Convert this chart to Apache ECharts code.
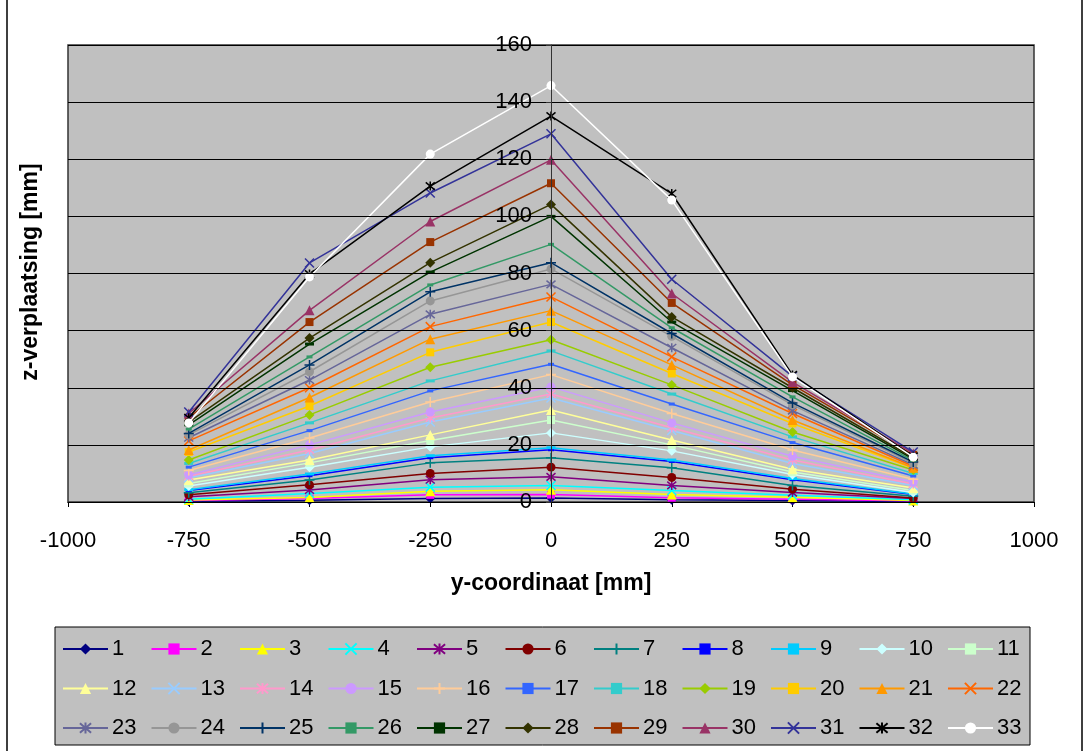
<!DOCTYPE html>
<html>
<head>
<meta charset="utf-8">
<script src="https://cdn.jsdelivr.net/npm/echarts@6/dist/echarts.min.js"></script>
<style>
  html, body { margin: 0; padding: 0; background: #fff; }
  #chart { width: 1085px; height: 751px; }
</style>
</head>
<body>
<div id="chart"></div>
<script>
// y-coordinates of the measuring points [mm]
const yCoords = [-750, -500, -250, 0, 250, 500, 750]

// z-displacement per load step [mm]
const s1  = [0.3, 0.6, 1.2, 1.4, 0.8, 0.5, 0.2]
const s2  = [0.5, 1.2, 2.5, 2.6, 1.5, 1.0, 0.4]
const s3  = [0.7, 1.6, 3.8, 4.3, 2.6, 1.7, 0.5]
const s4  = [1.0, 3.0, 5.2, 5.8, 4.0, 2.4, 0.8]
const s5  = [1.8, 4.2, 7.8, 8.8, 5.8, 3.3, 1.2]
const s6  = [2.5, 6.0, 10.0, 12.2, 8.6, 4.5, 1.4]
const s7  = [3.2, 7.7, 13.7, 15.5, 12.0, 5.8, 2.0]
const s8  = [4.0, 9.2, 15.5, 18.3, 14.2, 7.8, 2.6]
const s9  = [4.3, 9.8, 16.2, 19.0, 14.7, 8.2, 2.8]
const s10 = [5.6, 12.2, 19.3, 24.2, 17.9, 9.6, 3.3]
const s11 = [6.5, 13.7, 21.5, 28.7, 20.0, 10.5, 4.0]
const s12 = [7.7, 14.7, 23.5, 32.2, 21.7, 11.5, 4.9]
const s13 = [8.5, 17.0, 28.0, 36.4, 25.0, 13.5, 5.8]
const s14 = [9.0, 18.2, 29.4, 37.8, 26.0, 14.7, 6.3]
const s15 = [9.5, 20.0, 31.5, 40.3, 27.7, 16.0, 7.0]
const s16 = [11.0, 22.4, 35.0, 44.6, 31.0, 18.2, 8.0]
const s17 = [12.2, 25.0, 38.9, 48.2, 34.3, 20.8, 9.1]
const s18 = [13.5, 27.7, 42.4, 52.9, 37.8, 22.8, 10.0]
const s19 = [14.7, 30.5, 47.2, 56.8, 41.0, 24.5, 11.2]
const s20 = [17.5, 33.6, 52.4, 63.0, 45.0, 27.5, 11.8]
const s21 = [18.2, 36.6, 57.0, 67.0, 48.0, 28.7, 12.0]
const s22 = [21.4, 40.0, 61.4, 71.8, 50.8, 31.0, 12.5]
const s23 = [22.5, 42.7, 65.7, 76.2, 54.0, 32.0, 13.0]
const s24 = [23.5, 45.6, 70.4, 81.6, 58.0, 34.0, 13.5]
const s25 = [24.0, 48.0, 73.6, 83.8, 59.0, 34.7, 14.0]
const s26 = [25.5, 50.8, 76.0, 90.2, 61.0, 36.8, 14.5]
const s27 = [27.0, 55.3, 80.5, 100.0, 63.0, 39.0, 15.0]
const s28 = [28.0, 57.4, 83.8, 104.2, 64.8, 40.0, 15.5]
const s29 = [29.5, 63.0, 91.0, 111.6, 69.7, 41.0, 16.5]
const s30 = [31.0, 67.1, 98.2, 119.8, 73.0, 42.0, 17.0]
const s31 = [31.5, 83.7, 108.2, 128.9, 78.0, 44.0, 17.5]
const s32 = [29.5, 79.8, 110.6, 135.1, 108.0, 44.5, 16.0]
const s33 = [27.7, 78.8, 121.8, 145.8, 105.7, 43.8, 15.7]

const seriesNames = ['1','2','3','4','5','6','7','8','9','10','11','12','13','14','15','16','17',
  '18','19','20','21','22','23','24','25','26','27','28','29','30','31','32','33']
const seriesValues = [s1,s2,s3,s4,s5,s6,s7,s8,s9,s10,s11,s12,s13,s14,s15,s16,s17,
  s18,s19,s20,s21,s22,s23,s24,s25,s26,s27,s28,s29,s30,s31,s32,s33]
const seriesColors = ['#000080','#FF00FF','#FFFF00','#00FFFF','#800080','#800000','#008080',
  '#0000FF','#00CCFF','#CCFFFF','#CCFFCC','#FFFF99','#99CCFF','#FF99CC','#CC99FF','#FFCC99',
  '#3366FF','#33CCCC','#99CC00','#FFCC00','#FF9900','#FF6600','#666699','#969696','#003366',
  '#339966','#003300','#333300','#993300','#993366','#333399','#000000','#FFFFFF']

// excel style marker cycle
const markers = [
  { symbol: 'diamond', size: 10, stroke: false },
  { symbol: 'rect', size: 8, stroke: false },
  { symbol: 'triangle', size: 10, stroke: false },
  { symbol: 'path://M0,0L10,10M10,0L0,10', size: 9, stroke: true },
  { symbol: 'path://M0,0L10,10M10,0L0,10M5,-1L5,11', size: 9, stroke: true },
  { symbol: 'circle', size: 9, stroke: false },
  { symbol: 'path://M5,0L5,10M0,5L10,5', size: 10, stroke: true },
  { symbol: 'rect', size: [6, 3], stroke: false },
  { symbol: 'rect', size: [9, 3], stroke: false }
]

const FONT = 'Liberation Sans'
const LABEL_SIZE = 22

const series = seriesNames.map((name, i) => {
  const m = markers[i % markers.length]
  const c = seriesColors[i]
  return {
    name,
    type: 'line',
    data: yCoords.map((x, k) => [x, seriesValues[i][k]]),
    symbol: m.symbol,
    symbolSize: m.size,
    lineStyle: { color: c, width: 1.5 },
    itemStyle: m.stroke
      ? { color: c, borderColor: c, borderWidth: 1.5 }
      : { color: c, borderWidth: 0 },
    emphasis: { disabled: true },
    z: 2 + i
  }
})

// one legend per entry so the columns line up like the excel table
const legends = seriesNames.map((name, i) => ({
  data: [name],
  orient: 'horizontal',
  left: 62 + (i % 11) * 88.5,
  top: 638 + Math.floor(i / 11) * 39.5,
  itemWidth: 45,
  itemHeight: 14,
  itemGap: 0,
  padding: 0,
  selectedMode: false,
  textStyle: { fontFamily: FONT, fontSize: LABEL_SIZE, color: '#000', padding: [0, 0, 0, -1] }
}))

const chart = echarts.init(document.getElementById('chart'))
chart.setOption({
  animation: false,
  backgroundColor: '#fff',
  textStyle: { fontFamily: FONT },
  grid: {
    left: 68, right: 51, top: 45, bottom: 249,
    show: true,
    backgroundColor: '#C0C0C0',
    borderColor: '#333',
    borderWidth: 1.5
  },
  xAxis: {
    type: 'value',
    min: -1000, max: 1000, interval: 250,
    name: 'y-coordinaat [mm]',
    nameLocation: 'middle',
    nameGap: 70,
    nameTextStyle: { fontFamily: FONT, fontSize: 23, fontWeight: 'bold', color: '#000' },
    axisLine: { show: true, lineStyle: { color: '#000', width: 1 } },
    axisTick: { show: true, length: 5, lineStyle: { color: '#000' } },
    axisLabel: {
      fontFamily: FONT, fontSize: LABEL_SIZE, color: '#000', margin: 28,
      formatter: v => String(v)
    },
    splitLine: { show: false }
  },
  yAxis: {
    type: 'value',
    min: 0, max: 160, interval: 20,
    // excel puts the value axis where x = 0
    offset: -483,
    z: 40,
    axisLine: { show: true, onZero: false, lineStyle: { color: '#333', width: 1 } },
    axisTick: { show: true, length: 5, lineStyle: { color: '#333' } },
    axisLabel: { fontFamily: FONT, fontSize: LABEL_SIZE, color: '#000', margin: 19 },
    splitLine: { show: true, lineStyle: { color: '#000', width: 1 } }
  },
  legend: legends,
  graphic: [
    {
      type: 'rect', z: 0, silent: true,
      shape: { x: 7, y: -2, width: 1075, height: 755 },
      style: { fill: 'none', stroke: '#000', lineWidth: 1.5 }
    },
    {
      type: 'rect', z: 0, silent: true,
      shape: { x: 55, y: 627, width: 975, height: 118 },
      style: { fill: '#C0C0C0', stroke: '#000', lineWidth: 1 }
    },
    {
      type: 'text', z: 5, silent: true,
      x: 31, y: 272, rotation: Math.PI / 2,
      style: {
        text: 'z-verplaatsing [mm]',
        font: 'bold 23px "Liberation Sans"',
        fill: '#000',
        align: 'center',
        verticalAlign: 'middle'
      }
    }
  ],
  series
})
</script>
</body>
</html>
